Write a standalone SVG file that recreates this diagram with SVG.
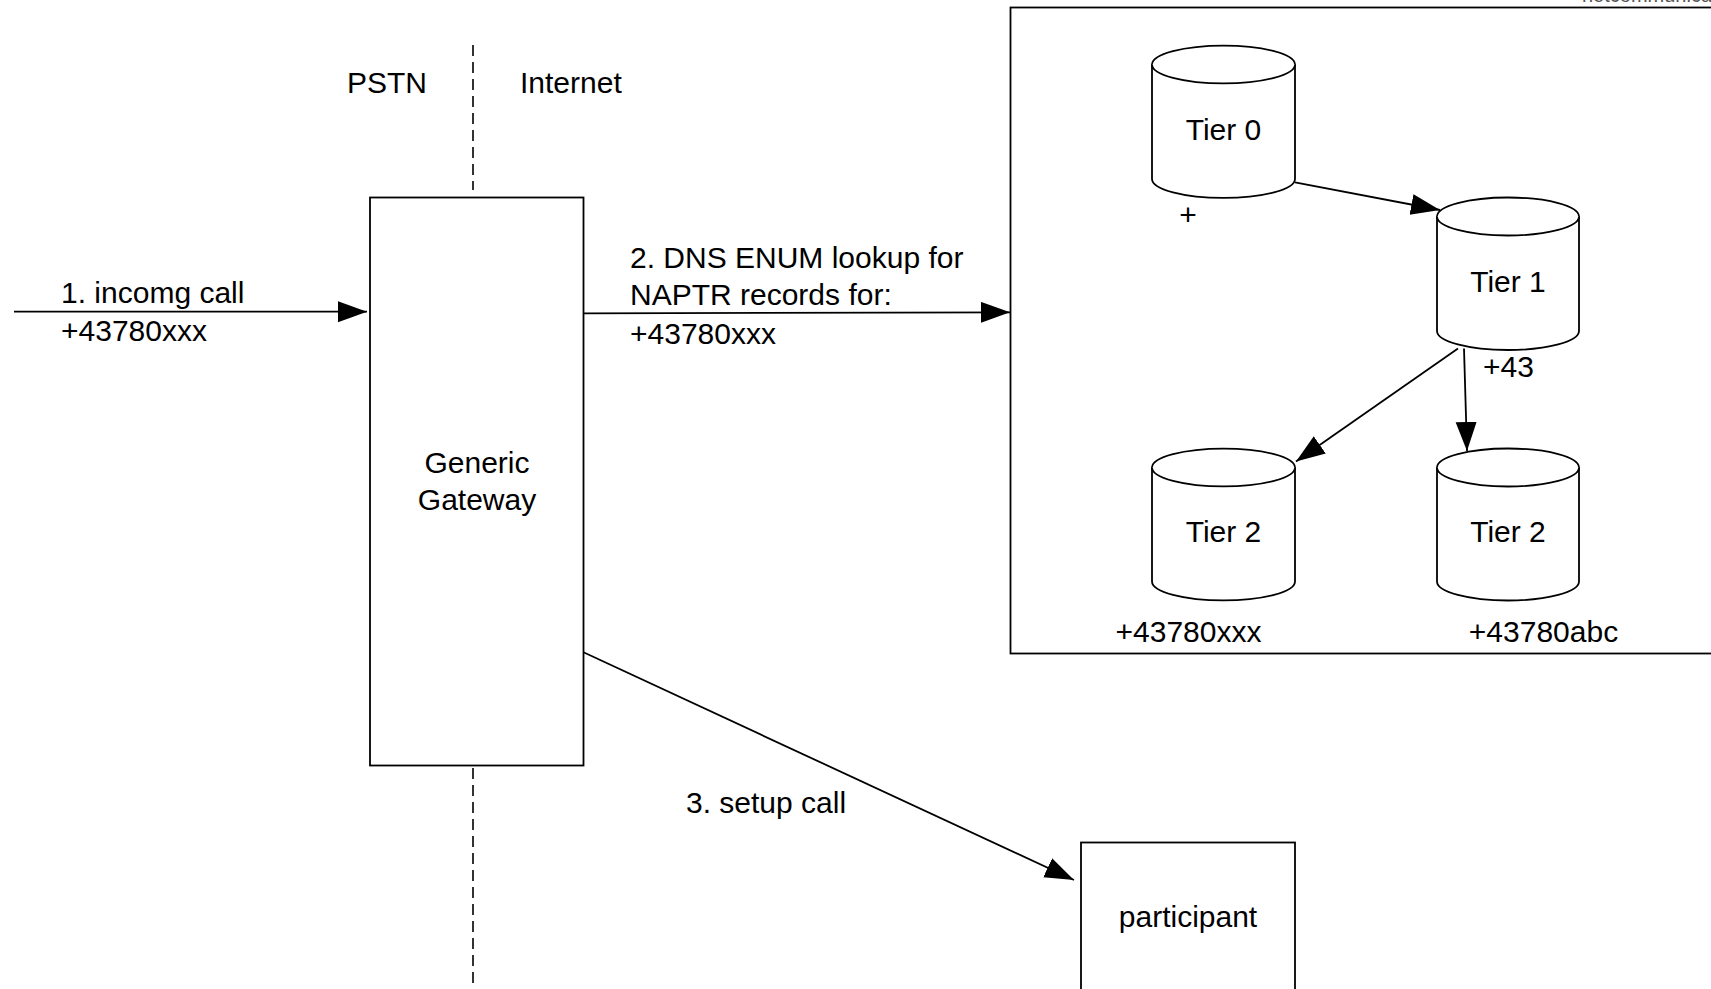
<svg xmlns="http://www.w3.org/2000/svg" width="1711" height="989" viewBox="0 0 1711 989">
  <style>
    .box { fill: #ffffff; stroke: #000000; stroke-width: 1.8; }
    .cyl { fill: #ffffff; stroke: #000000; stroke-width: 1.8; }
    .edge { fill: none; stroke: #000000; stroke-width: 1.8; }
    .dash { fill: none; stroke: #000000; stroke-width: 1.6; stroke-dasharray: 11 6; }
    .t { font-family: "Liberation Sans", Arial, sans-serif; font-size: 30px; fill: #000000; }
    .c { text-anchor: middle; }
  </style>
  <defs>
    <marker id="arrow" markerUnits="userSpaceOnUse" markerWidth="30" markerHeight="22" refX="29" refY="10.5" orient="auto">
      <path d="M0,0 L29,10.5 L0,21 Z" fill="#000000"/>
    </marker>
  </defs>
  <rect x="0" y="0" width="1711" height="989" fill="#ffffff"/>

  <text x="1582" y="2" style="font-family: 'Liberation Sans', Arial, sans-serif; font-size: 20px; fill: #555555;">netcommunications</text>

  <g id="divider">
    <line class="dash" x1="473" y1="45" x2="473" y2="190"/>
    <line class="dash" x1="473" y1="768" x2="473" y2="989"/>
    <text class="t" x="347" y="93">PSTN</text>
    <text class="t" x="520" y="93">Internet</text>
  </g>

  <g id="enum-box">
    <rect class="box" x="1010.5" y="7.5" width="720" height="646"/>
  </g>

  <g id="gateway">
    <rect class="box" x="370" y="197.5" width="213.5" height="568"/>
    <text class="t c" x="477" y="472.5">Generic</text>
    <text class="t c" x="477" y="510">Gateway</text>
  </g>

  <g id="participant">
    <rect class="box" x="1081" y="842.5" width="214" height="160"/>
    <text class="t c" x="1188" y="927">participant</text>
  </g>

  <g id="tier0">
    <path class="cyl" d="M1152,64.5 L1152,179 A71.5,19 0 0 0 1295,179 L1295,64.5 A71.5,19 0 0 0 1152,64.5 Z"/>
    <path class="cyl" d="M1152,64.5 A71.5,19 0 0 0 1295,64.5"/>
    <text class="t c" x="1223.5" y="140">Tier 0</text>
    <text class="t c" x="1188" y="225">+</text>
  </g>

  <g id="tier1">
    <path class="cyl" d="M1437,216.5 L1437,331 A71,19 0 0 0 1579,331 L1579,216.5 A71,19 0 0 0 1437,216.5 Z"/>
    <path class="cyl" d="M1437,216.5 A71,19 0 0 0 1579,216.5"/>
    <text class="t c" x="1508" y="292">Tier 1</text>
    <text class="t" x="1483" y="377">+43</text>
  </g>

  <g id="tier2a">
    <path class="cyl" d="M1152,467.5 L1152,581.5 A71.5,19 0 0 0 1295,581.5 L1295,467.5 A71.5,19 0 0 0 1152,467.5 Z"/>
    <path class="cyl" d="M1152,467.5 A71.5,19 0 0 0 1295,467.5"/>
    <text class="t c" x="1223.5" y="542">Tier 2</text>
    <text class="t c" x="1188.5" y="642">+43780xxx</text>
  </g>

  <g id="tier2b">
    <path class="cyl" d="M1437,467.5 L1437,581.5 A71,19 0 0 0 1579,581.5 L1579,467.5 A71,19 0 0 0 1437,467.5 Z"/>
    <path class="cyl" d="M1437,467.5 A71,19 0 0 0 1579,467.5"/>
    <text class="t c" x="1508" y="542">Tier 2</text>
    <text class="t c" x="1543.5" y="642">+43780abc</text>
  </g>

  <g id="connectors">
    <line class="edge" x1="14" y1="311.7" x2="367" y2="311.7" marker-end="url(#arrow)"/>
    <text class="t" x="61" y="302.5">1. incomg call</text>
    <text class="t" x="61" y="341">+43780xxx</text>

    <line class="edge" x1="583.5" y1="313.3" x2="1010" y2="312.3" marker-end="url(#arrow)"/>
    <text class="t" x="630" y="268">2. DNS ENUM lookup for</text>
    <text class="t" x="630" y="305">NAPTR records for:</text>
    <text class="t" x="630" y="344">+43780xxx</text>

    <line class="edge" x1="583.5" y1="652.3" x2="1074" y2="880" marker-end="url(#arrow)"/>
    <text class="t" x="686" y="812.5">3. setup call</text>

    <line class="edge" x1="1295" y1="182.3" x2="1440" y2="210" marker-end="url(#arrow)"/>
    <line class="edge" x1="1458" y1="348.5" x2="1296" y2="461.5" marker-end="url(#arrow)"/>
    <line class="edge" x1="1464" y1="348.5" x2="1467" y2="451" marker-end="url(#arrow)"/>
  </g>
</svg>
